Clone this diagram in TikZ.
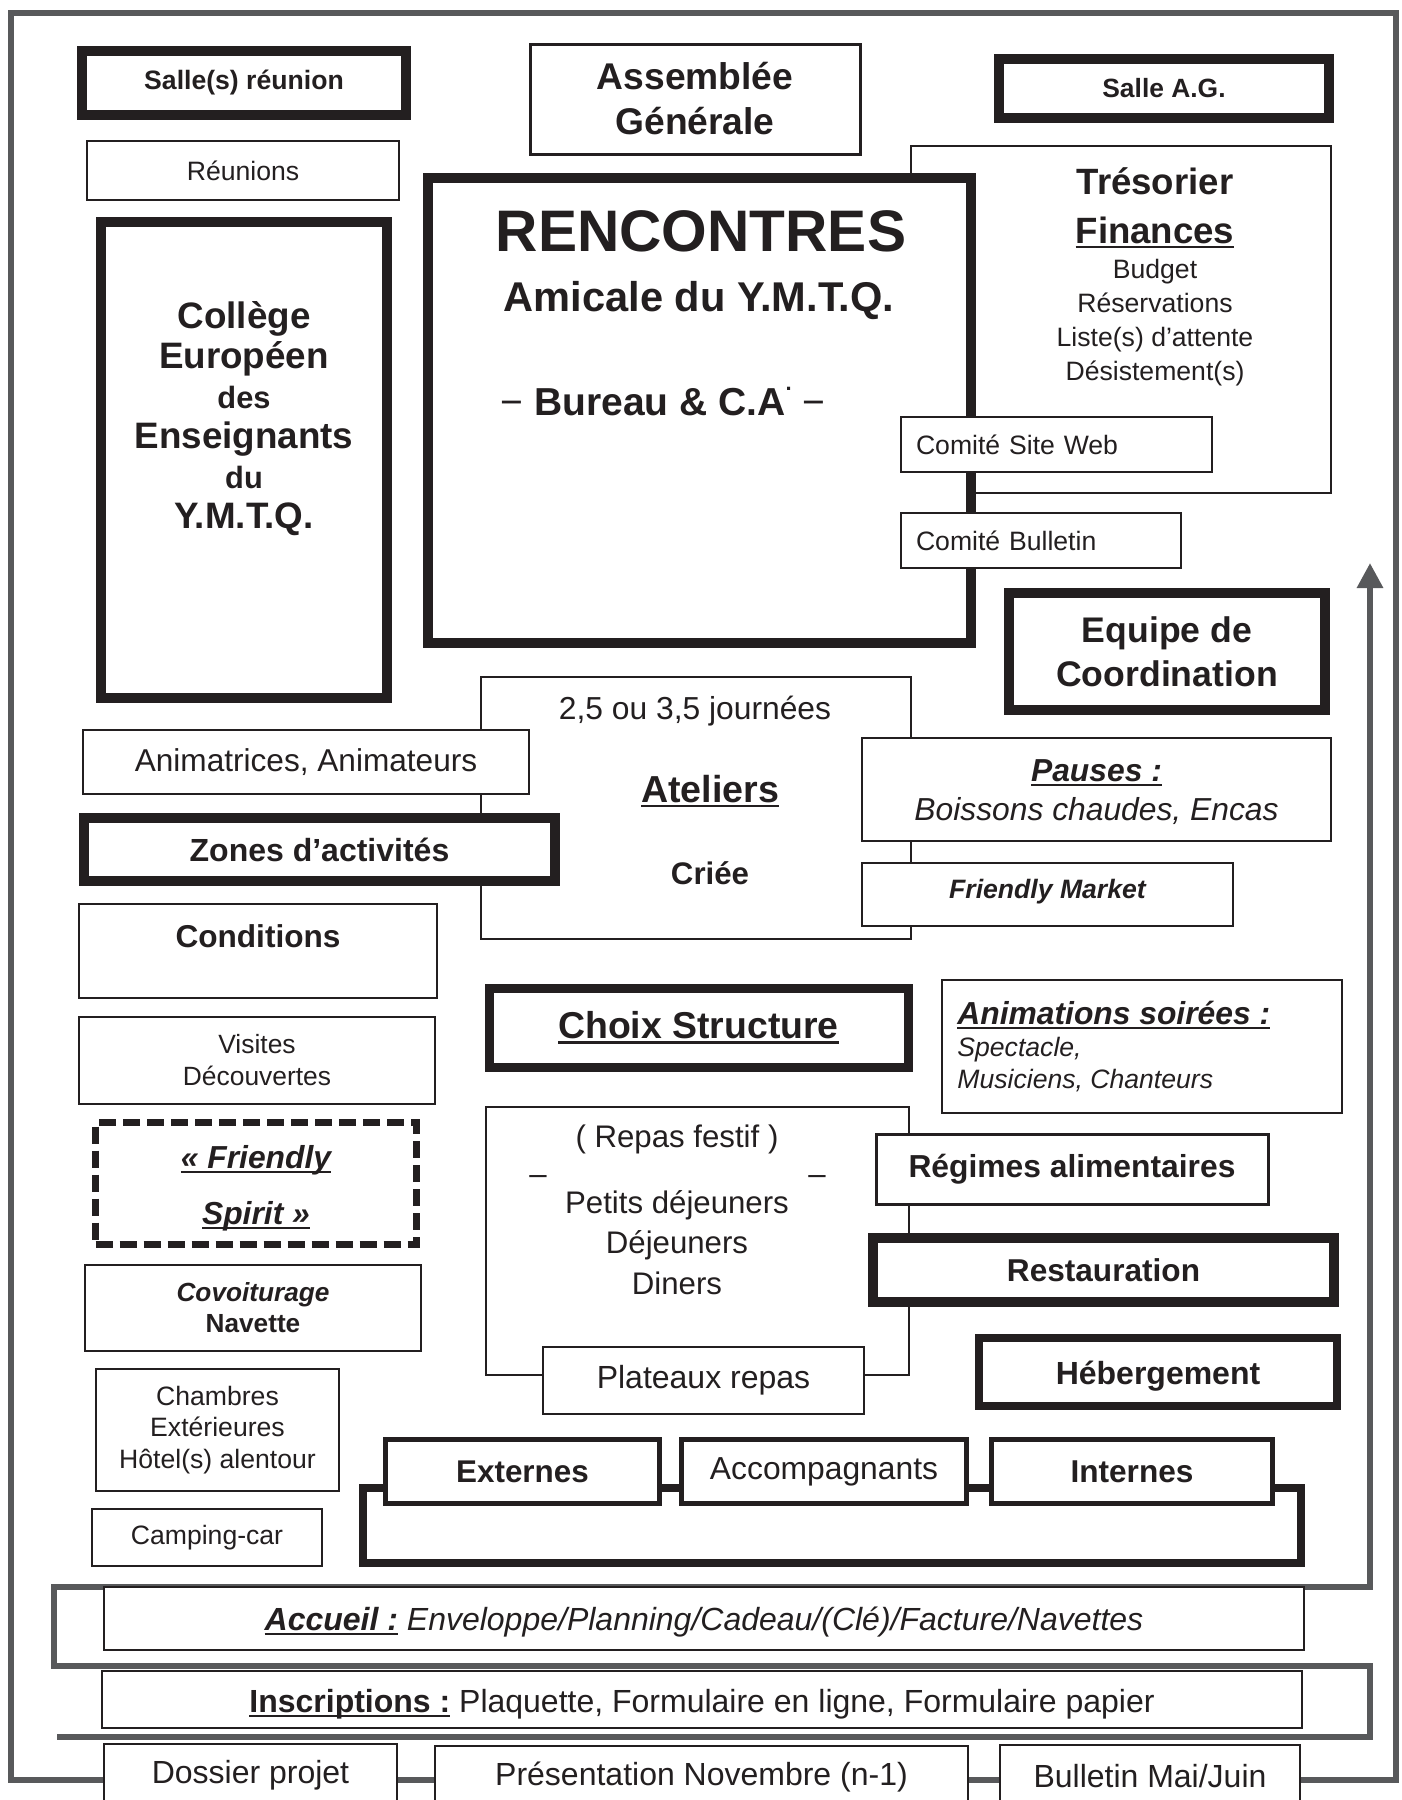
\documentclass[tikz,border=0pt]{standalone}
\usepackage{fontspec}
\setmainfont{Liberation Sans}
\usetikzlibrary{arrows.meta,backgrounds}
\definecolor{ink}{HTML}{231F20}
\definecolor{frameg}{HTML}{58595B}
\newcommand{\sz}[2]{\fontsize{#1}{#2}\selectfont}
\newcommand{\tsm}{\sz{13.3}{17}\mdseries}
\newsavebox{\ulbox}
\newcommand{\undl}[1]{\sbox\ulbox{#1}\rlap{\rule[-0.14em]{\wd\ulbox}{0.065em}}\usebox\ulbox}

\begin{document}
\begin{tikzpicture}[x=0.5pt, y=-0.5pt,
    box/.style={draw=ink, line width=1.2pt, fill=white, inner sep=0pt, align=center, text=ink},
    heavybox/.style={box, line width=5pt},
    midbox/.style={box, line width=2.6pt},
    dashbox/.style={box, line width=3.5pt, dash pattern=on 8.5pt off 3.5pt},
    txt/.style={inner sep=0pt, align=center, text=ink},
    frameline/.style={draw=frameg, line width=3pt},
    link/.style={draw=ink, line width=4pt}]
  \useasboundingbox (0,0) rectangle (1402,1800);

  % boxes lying underneath others
  \node[box, minimum width=210pt, minimum height=173.5pt] (tresorier) at (1121,319.5) {};
  \node[box, minimum width=215pt, minimum height=131pt] (ateliers) at (696,808) {};
  \node[box, minimum width=211.5pt, minimum height=134pt] (repas) at (697.5,1241) {};

  % top row
  \node[heavybox, minimum width=162pt, minimum height=32pt, font=\sz{13.3}{16}\bfseries] (salleR) at (244,83) {Salle(s) réunion};
  \node[box, minimum width=156pt, minimum height=29.5pt, font=\sz{13.3}{16}] (reunions) at (243,170.5) {Réunions};
  \node[box, line width=1.5pt, minimum width=165pt, minimum height=55pt, font=\sz{18.6}{22.5}\bfseries] (assemblee) at (695,99) {Assemblée\\Générale};
  \node[heavybox, minimum width=165pt, minimum height=29.5pt, font=\sz{13.2}{16}\bfseries] (salleAG) at (1164,88.5) {Salle A.G.};

  \node[heavybox, minimum width=143pt, minimum height=238pt] (college) at (244,460) {};
  \node[txt, anchor=north, font=\sz{18.4}{20}\bfseries] (collegeT) at (244,301)
    {Collège\\Européen\\{\sz{15.4}{20}des}\\Enseignants\\{\sz{15.4}{20}du}\\Y.M.T.Q.};

  \node[txt, anchor=north, font=\sz{18.3}{17}\bfseries] (tresT) at (1155,167)
    {Trésorier\\[7.5pt]\undl{Finances}\\[0.5pt]\tsm Budget\\\tsm Réservations\\\tsm Liste(s) d’attente\\\tsm Désistement(s)};

  \node[heavybox, minimum width=271.5pt, minimum height=232.5pt] (rencontres) at (699.5,410.5) {};
  \node[txt, anchor=base, font=\sz{29.3}{30}\bfseries] (rtitle) at (701,251) {RENCONTRES};
  \node[txt, anchor=base, font=\sz{20.8}{22}\bfseries] (rsub) at (699,311) {Amicale du Y.M.T.Q.};
  \node[txt, anchor=base, font=\sz{19.5}{22}\bfseries] (rbureau) at (663,415)
    {{\mdseries −} Bureau \& C.A\raisebox{0.62em}{\sz{11}{11}.} {\mdseries −}};

  \node[box, text width=140.5pt, inner xsep=7.5pt, minimum height=27.5pt, align=left, font=\sz{13.3}{16}] (siteweb) at (1056.5,444.5) {Comité Site Web};
  \node[box, text width=125pt, inner xsep=7.5pt, minimum height=27.5pt, align=left, font=\sz{13.3}{16}] (combull) at (1041,540.5) {Comité Bulletin};
  \node[heavybox, minimum width=158pt, minimum height=58.5pt, font=\sz{17.8}{22}\bfseries] (coord) at (1167,651.5) {Equipe de\\Coordination};

  % ateliers
  \node[txt, anchor=base, font=\sz{15.9}{19}] (atelT1) at (695,719) {2,5 ou 3,5 journées};
  \node[txt, anchor=base, font=\sz{18.8}{22}\bfseries] (atelT2) at (710,802) {\undl{Ateliers}};
  \node[txt, anchor=base, font=\sz{15.6}{19}\bfseries] (atelT3) at (710,884) {Criée};
  \node[box, minimum width=223pt, minimum height=32pt, font=\sz{15.8}{19}] (animateurs) at (306,762) {Animatrices, Animateurs};
  \node[heavybox, minimum width=235.5pt, minimum height=31.5pt, font=\sz{16}{19}\bfseries] (zones) at (319.5,849.5) {Zones d’activités};
  \node[box, minimum width=234.5pt, minimum height=51.5pt] (pauses) at (1096.5,789.5) {};
  \node[txt, font=\sz{15.9}{19.5}\itshape] (pausesT) at (1096.5,792) {\textbf{\undl{Pauses :}}\\Boissons chaudes, Encas};
  \node[box, minimum width=185.5pt, minimum height=31.5pt, text height=3.5pt, text depth=0pt, font=\sz{13.3}{16}\bfseries\itshape] (market) at (1047.5,894.5) {Friendly Market};

  % left column
  \node[box, minimum width=179pt, minimum height=47pt] (conditions) at (258,951) {};
  \node[txt, anchor=base, font=\sz{15.8}{19}\bfseries] (condT) at (258,947) {Conditions};
  \node[box, minimum width=178pt, minimum height=43.5pt, font=\sz{13.2}{16}] (visites) at (257,1060.5) {Visites\\Découvertes};
  \node[dashbox, minimum width=160.5pt, minimum height=61pt] (spirit) at (256,1183.5) {};
  \node[txt, font=\sz{15.9}{28}\bfseries\itshape] (spiritT) at (256,1188) {\undl{« Friendly}\\\undl{Spirit »}};
  \node[box, minimum width=168pt, minimum height=43pt, font=\sz{13.1}{15.5}\bfseries] (covoit) at (253,1308) {\textit{Covoiturage}\\Navette};
  \node[box, minimum width=121.5pt, minimum height=61pt, font=\sz{13.3}{15.75}] (chambres) at (217.5,1430) {Chambres\\Extérieures\\Hôtel(s) alentour};
  \node[box, minimum width=115pt, minimum height=28.5pt, font=\sz{13.3}{16}] (camping) at (207,1537.5) {Camping-car};

  % middle and right
  \node[heavybox, line width=4.5pt, minimum width=209.5pt, minimum height=39.5pt, font=\sz{18.7}{22}\bfseries] (choix) at (698.5,1027.5) {\undl{Choix Structure}};
  \node[box, minimum width=200pt, minimum height=66.5pt] (soirees) at (1142,1046.5) {};
  \node[txt, anchor=north west, align=left, font=\sz{13.3}{16}\itshape] (soireesT) at (957,1001)
    {{\sz{15.9}{16}\bfseries\undl{Animations soirées :}}\\Spectacle,\\Musiciens, Chanteurs};

  \node[txt, anchor=north, font=\sz{15.6}{20.25}] (repasT) at (677,1124)
    {( Repas festif )\\[12.75pt]Petits déjeuners\\Déjeuners\\Diners};
  \node[txt, anchor=base, font=\sz{15.6}{19}] (repasL) at (538,1184) {–};
  \node[txt, anchor=base, font=\sz{15.6}{19}] (repasR) at (817,1184) {–};
  \node[box, line width=1.5pt, minimum width=196pt, minimum height=35pt, font=\sz{15.9}{19}\bfseries] (regimes) at (1072,1169) {Régimes alimentaires};
  \node[heavybox, minimum width=230.5pt, minimum height=32pt, font=\sz{15.8}{19}\bfseries] (restauration) at (1103.5,1270) {Restauration};
  \node[box, minimum width=160.5pt, minimum height=33.5pt, font=\sz{16}{19}] (plateaux) at (703.5,1380.5) {Plateaux repas};
  \node[heavybox, line width=4.3pt, minimum width=179pt, minimum height=34pt, text height=12.5pt, text depth=0pt, font=\sz{16}{19}\bfseries] (hebergement) at (1158,1372) {Hébergement};

  \node[midbox, minimum width=137pt, minimum height=32pt, font=\sz{15.7}{19}\bfseries] (externes) at (522.5,1471.5) {Externes};
  \node[midbox, minimum width=142.5pt, minimum height=32pt, font=\sz{15.9}{19}] (accomp) at (824,1471.5) {Accompagnants};
  \node[midbox, minimum width=140.5pt, minimum height=32pt, font=\sz{15.8}{19}\bfseries] (internes) at (1132,1471.5) {Internes};

  % bottom
  \node[box, minimum width=600pt, minimum height=31.5pt, text height=11.7pt, text depth=0pt, font=\sz{16}{19}\itshape] (accueil) at (704,1618.5)
    {\textbf{\undl{Accueil :}} Enveloppe/Planning/Cadeau/(Clé)/Facture/Navettes};
  \node[box, minimum width=600pt, minimum height=28.5pt, text height=12.9pt, text depth=0pt, font=\sz{16}{19}] (inscriptions) at (702,1699.5)
    {\textbf{\undl{Inscriptions :}} Plaquette, Formulaire en ligne, Formulaire papier};
  \node[box, minimum width=146.5pt, minimum height=31pt, font=\sz{16}{19}] (dossier) at (250.5,1775) {Dossier projet};
  \node[box, minimum width=266.5pt, minimum height=31pt, font=\sz{16}{19}] (presentation) at (701.5,1777) {Présentation Novembre (n-1)};
  \node[box, minimum width=150pt, minimum height=31pt, font=\sz{16}{19}] (bulletinMJ) at (1150,1776) {Bulletin Mai/Juin};

  \begin{pgfonlayer}{background}
    \fill[white] (0,0) rectangle (1402,1800);
    % frame round the whole
    \coordinate (fl) at (0,1780);
    \draw[frameline] (dossier.west |- fl) -- (11,1780) -- (11,13) -- (1396,13) -- (1396,1780) -- (bulletinMJ.east |- fl);
    \draw[frameline] (dossier.east |- fl) -- (presentation.west |- fl);
    \draw[frameline] (presentation.east |- fl) -- (bulletinMJ.west |- fl);
    % rising arrow
    \coordinate (arrowStart) at (57,1737);
    \coordinate (arrowTip) at (1370,563);
    \draw[frameline, -{Triangle[width=12.5pt,length=12.5pt]}] (arrowStart) -- (1370,1737) -- (1370,1666)
      -- (54,1666) -- (54,1587) -- (1370,1587) -- (arrowTip);
    % participants
    \coordinate (brk) at (0,1488);
    \draw[link] (externes.west |- brk) -- (363,1488) -- (363,1563) -- (1301,1563) -- (1301,1488) -- (internes.east |- brk);
    \draw[link] (externes.east |- brk) -- (accomp.west |- brk);
    \draw[link] (accomp.east |- brk) -- (internes.west |- brk);
  \end{pgfonlayer}
\end{tikzpicture}
\end{document}
